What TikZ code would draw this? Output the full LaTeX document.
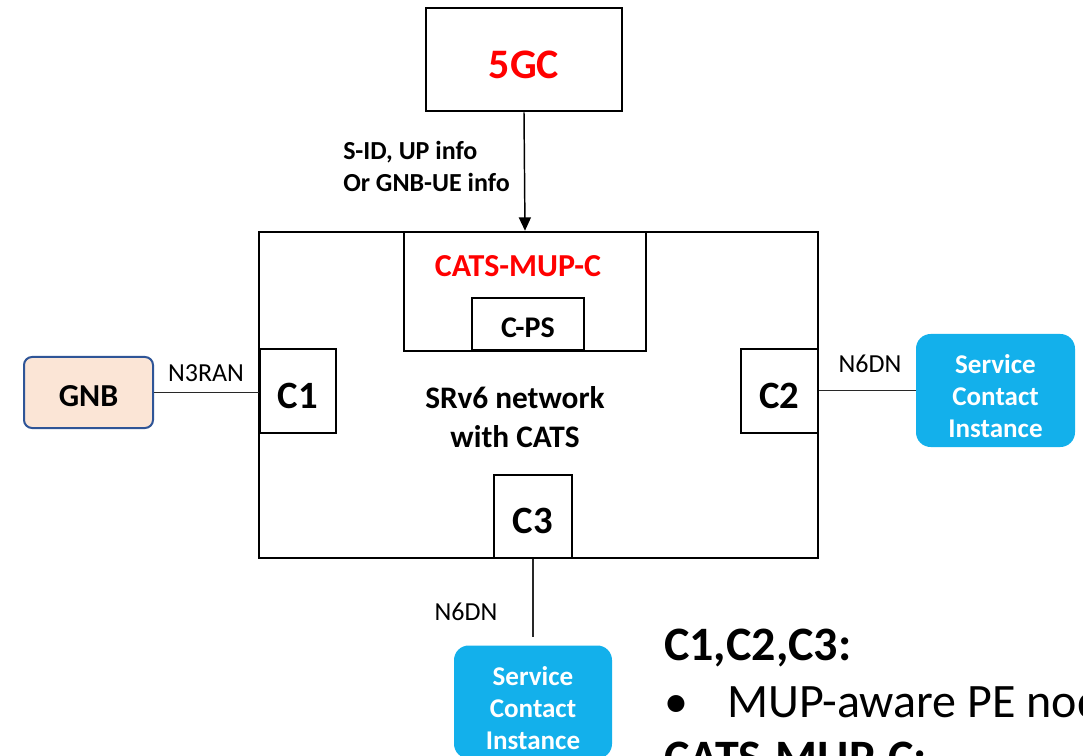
\documentclass[tikz,border=0pt]{standalone}
\usepackage{fontspec}
\setmainfont{Carlito}
\usetikzlibrary{arrows.meta}
\definecolor{redtxt}{RGB}{255,0,0}
\definecolor{svcblue}{RGB}{19,176,235}
\definecolor{gnbfill}{RGB}{251,229,214}
\definecolor{gnbdraw}{RGB}{47,85,151}
\definecolor{linegray}{RGB}{40,40,40}
\begin{document}
\begin{tikzpicture}[x=0.75pt,y=-0.75pt,
  blackbox/.style={draw=black,line width=1.9pt,inner sep=0pt,fill=white},
  ptext/.style={text height=#1,text depth=0pt},
  conn/.style={draw=linegray,line width=1.1pt},
  lbl/.style={font=\fontsize{19.5}{22}\selectfont,inner sep=0pt},
  svcbox/.style={fill=svcblue,rounded corners=11pt,inner sep=0pt},
  svctext/.style={text=white,align=center,inner sep=0pt,font=\bfseries\fontsize{20.3}{24}\selectfont},
  cfont/.style={ptext=25.6pt,font=\bfseries\fontsize{29}{32}\selectfont}]
\useasboundingbox (0,0) rectangle (1083,756);
\clip (0,0) rectangle (1083,756);
% nodes
\node[blackbox,ptext=27.8pt,minimum width=147pt,minimum height=77.25pt,text=redtxt,font=\bfseries\fontsize{31.5}{34}\selectfont] (g5) at (524,59.5) {5GC};
\node[blackbox,minimum width=419.25pt,minimum height=244.5pt] (net) at (538.5,395) {};
\node[blackbox,minimum width=181.5pt,minimum height=89.25pt] (mupc) at (525,291.5) {};
\node[text=redtxt,font=\bfseries\fontsize{24}{28}\selectfont,inner sep=0pt] (mupclbl) at (518,266) {CATS-MUP-C};
\node[blackbox,ptext=19.9pt,minimum width=84pt,minimum height=39pt,font=\bfseries\fontsize{22.5}{26}\selectfont] (cps) at (528,324) {C-PS};
\node[blackbox,minimum width=57pt,minimum height=63pt,cfont] (c1) at (298,391) {C1};
\node[blackbox,minimum width=57.75pt,minimum height=63pt,cfont] (c2) at (779.5,391) {C2};
\node[blackbox,minimum width=58.5pt,minimum height=62.25pt,cfont] (c3) at (533,516.5) {C3};
\node[align=center,font=\bfseries\fontsize{23.5}{29}\selectfont,inner sep=0pt] (srv6) at (515,417) {SRv6 network\\with CATS};
\node[draw=gnbdraw,fill=gnbfill,ptext=21.2pt,line width=1.5pt,rounded corners=6pt,minimum width=96.75pt,minimum height=53.25pt,inner sep=0pt,font=\bfseries\fontsize{24}{28}\selectfont] (gnb) at (88.5,392.5) {GNB};
\node[svcbox,minimum width=119.25pt,minimum height=84.75pt] (svc1) at (995.5,390.5) {};
\node[svctext] (svc1t) at ([yshift=-4.5pt]svc1.center) {Service\\Contact\\Instance};
\node[svcbox,minimum width=118.5pt,minimum height=84.75pt] (svc2) at (533,702) {};
\node[svctext] (svc2t) at ([yshift=-4.5pt]svc2.center) {Service\\Contact\\Instance};
% connectors
\draw[line width=1.1pt,-{Triangle[length=10pt,width=9pt]}] (g5.south) -- (mupc.north);
\node[anchor=west,align=left,font=\bfseries\fontsize{19.5}{24}\selectfont,inner sep=0pt] (info) at (343,166) {S-ID, UP info\\Or GNB-UE info};
\draw[conn] (gnb.east) -- (gnb.east -| c1.west);
\node[lbl] (n3) at (206,373) {N3RAN};
\draw[conn] (svc1.west -| c2.east) -- (svc1.west);
\node[lbl] (n6a) at (870,364) {N6DN};
\draw[conn,shorten >=6pt] (c3.south) -- (svc2.north);
\node[lbl] (n6b) at (466,612) {N6DN};
% bottom-right text
\node[anchor=base west,inner sep=0pt,font=\bfseries\fontsize{36}{40}\selectfont] (t1) at (664,660) {C1,C2,C3:};
\node[anchor=base west,inner sep=0pt,font=\fontsize{36}{40}\selectfont] (t2) at (664,717) {\textbullet};
\node[anchor=base west,inner sep=0pt,font=\fontsize{36}{40}\selectfont] (t3) at (727,717) {MUP-aware PE nodes};
\node[anchor=base west,inner sep=0pt,font=\bfseries\fontsize{36}{40}\selectfont] (t4) at (664,773) {CATS-MUP-C:};
\end{tikzpicture}
\end{document}
